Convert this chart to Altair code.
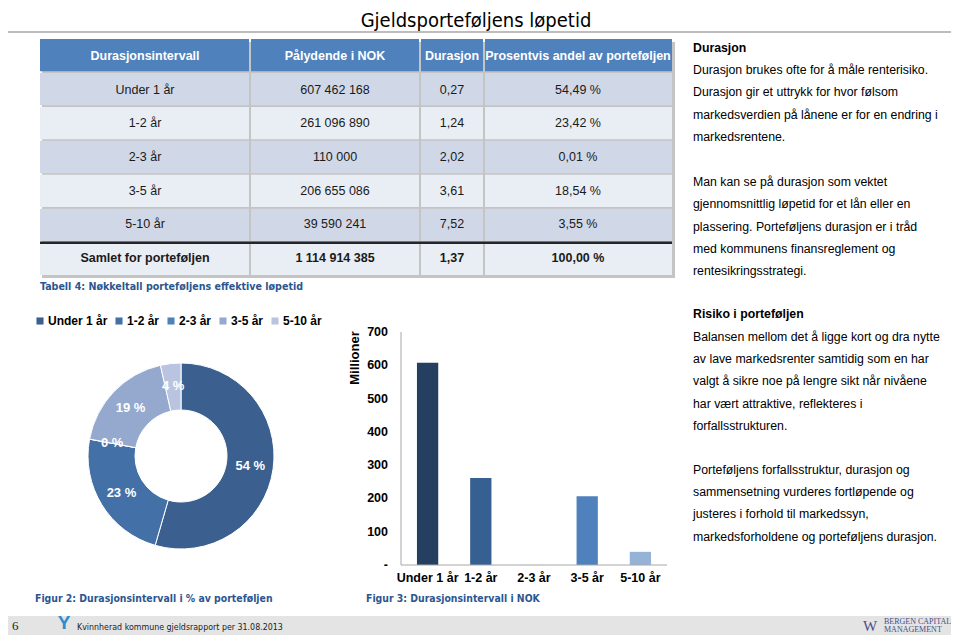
import altair as alt
import pandas as pd

# ---------------- data ----------------
intervals = ["Under 1 år", "1-2 år", "2-3 år", "3-5 år", "5-10 år"]
nominal_nok = [607462168, 261096890, 110000, 206655086, 39590241]
duration_years = [0.27, 1.24, 2.02, 3.61, 7.52]
share_pct = [54.49, 23.42, 0.01, 18.54, 3.55]

total_label = "Samlet for porteføljen"
total_nok = 1114914385
total_duration = 1.37
total_share = 100.00

table_header = ["Durasjonsintervall", "Pålydende i NOK", "Durasjon",
                "Prosentvis andel av porteføljen"]

bar_ticks = [0, 100, 200, 300, 400, 500, 600, 700]
bar_tick_labels = ["-", "100", "200", "300", "400", "500", "600", "700"]

title_text = "Gjeldsporteføljens løpetid"
table_caption = "Tabell 4: Nøkkeltall porteføljens effektive løpetid"
fig2_caption = "Figur 2: Durasjonsintervall i % av porteføljen"
fig3_caption = "Figur 3: Durasjonsintervall i NOK"
y_axis_title = "Millioner"

block1_head = "Durasjon"
block1_para1 = [
    "Durasjon brukes ofte for å måle renterisiko.",
    "Durasjon gir et uttrykk for hvor følsom",
    "markedsverdien på lånene er for en endring i",
    "markedsrentene.",
]
block1_para2 = [
    "Man kan se på durasjon som vektet",
    "gjennomsnittlig løpetid for et lån eller en",
    "plassering. Porteføljens durasjon er i  tråd",
    "med kommunens finansreglement og",
    "rentesikringsstrategi.",
]
block2_head = "Risiko i porteføljen"
block2_para1 = [
    "Balansen mellom det å ligge kort og dra nytte",
    "av lave markedsrenter samtidig som en har",
    "valgt å sikre noe på lengre sikt når nivåene",
    "har vært attraktive, reflekteres i",
    "forfallsstrukturen.",
]
block2_para2 = [
    "Porteføljens forfallsstruktur, durasjon og",
    "sammensetning vurderes fortløpende og",
    "justeres i forhold til markedssyn,",
    "markedsforholdene og porteføljens durasjon.",
]
footer_text = "Kvinnherad kommune gjeldsrapport per  31.08.2013"
page_number = "6"

# ---------------- styling / layout ----------------
W, H = 943, 627
FONT = "Liberation Sans"
NARROW = "Liberation Sans Narrow, DejaVu Sans Condensed, Liberation Sans"
SERIF = "Liberation Serif"
CAPTION_BLUE = "#2B5690"

donut_colors = ["#3B5F8E", "#4470A8", "#4F81BD", "#95A9CF", "#B9C5E0"]
bar_colors = ["#243F60", "#376092", "#4F81BD", "#4F81BD", "#95B3D7"]


def X(v):
    return v - 8


def Y(v):
    return v - 8


def label(text, x, y, size=12.5, weight="normal", color="#000000",
          align="left", baseline="middle", font=FONT, angle=0, **kw):
    return alt.Chart(pd.DataFrame({"t": [text]})).mark_text(
        align=align, baseline=baseline, fontSize=size, fontWeight=weight,
        color=color, font=font, angle=angle, **kw
    ).encode(x=alt.value(X(x)), y=alt.value(Y(y)), text="t:N")


def paragraph(lines, x, y_top, size=12.3, line_height=22.3):
    return alt.Chart(pd.DataFrame({"t": ["\n".join(lines)]})).mark_text(
        align="left", baseline="top", fontSize=size, font=FONT,
        color="#000000", lineBreak="\n", lineHeight=line_height
    ).encode(x=alt.value(X(x)), y=alt.value(Y(y_top)), text="t:N")


def fmt_int(v):
    return f"{v:,}".replace(",", " ")


def fmt_dec(v):
    return f"{v:.2f}".replace(".", ",")


layers = []

# ---- title + rule ----
layers.append(label(title_text, 476, 27, size=20, align="center",
                    baseline="alphabetic", font=NARROW))
layers.append(alt.Chart(pd.DataFrame({"k": [0]})).mark_rule(
    color="#BDBDBD", strokeWidth=2).encode(
    x=alt.value(0), x2=alt.value(W), y=alt.value(Y(32))))

# ---- table ----
rows = [table_header[0]] + intervals + [total_label]
kinds = ["h"] + ["dark" if i % 2 == 0 else "light" for i in range(len(intervals))] + ["light"]
row_df = pd.DataFrame({"row": rows, "fill": kinds})

col_edges = [40, 250, 420, 484, 672]
table_y = alt.Scale(domain=rows, range=[Y(39), Y(275)], paddingInner=0.05,
                    paddingOuter=0)

cols_text = [
    [table_header[0]] + intervals + [total_label],
    [table_header[1]] + [fmt_int(v) for v in nominal_nok] + [fmt_int(total_nok)],
    [table_header[2]] + [fmt_dec(v) for v in duration_years] + [fmt_dec(total_duration)],
    [table_header[3]] + [fmt_dec(v) + " %" for v in share_pct] + [fmt_dec(total_share) + " %"],
]
cell_kind = ["header"] + ["body"] * len(intervals) + ["total"]

# shadow
layers.append(alt.Chart(pd.DataFrame({"k": [0]})).mark_rect(
    fill="#C4C4C4").encode(
    x=alt.value(X(42)), x2=alt.value(X(675)),
    y=alt.value(Y(42)), y2=alt.value(Y(278))))

for c in range(4):
    l, r = col_edges[c], col_edges[c + 1]
    layers.append(alt.Chart(row_df).mark_rect().encode(
        x=alt.value(X(l) + (0 if c == 0 else 1)),
        x2=alt.value(X(r) - (0 if c == 3 else 1)),
        y=alt.Y("row:N", scale=table_y, axis=None),
        fill=alt.Fill("fill:N", scale=alt.Scale(
            domain=["h", "dark", "light"],
            range=["#4F81BD", "#D0D8E8", "#E9EDF4"]), legend=None),
    ))
    cdf = pd.DataFrame({"row": rows, "txt": cols_text[c], "kind": cell_kind})
    cx = (l + r) / 2
    for kind, weight, color in [("header", "bold", "#FFFFFF"),
                                ("body", "normal", "#1A1A1A"),
                                ("total", "bold", "#1A1A1A")]:
        sub = cdf[cdf["kind"] == kind]
        layers.append(alt.Chart(sub).mark_text(
            align="center", baseline="middle", fontSize=12.5,
            fontWeight=weight, color=color, font=FONT).encode(
            x=alt.value(X(cx)),
            y=alt.Y("row:N", scale=table_y, axis=None),
            text="txt:N"))

# thick line above total row
layers.append(alt.Chart(row_df[row_df["row"] == total_label]).mark_rule(
    color="#262626", strokeWidth=2.5).encode(
    x=alt.value(X(40)), x2=alt.value(X(672)),
    y=alt.Y("row:N", scale=table_y, axis=None, bandPosition=0)))

layers.append(label(table_caption, 40, 287, size=10.6, weight="bold",
                    color=CAPTION_BLUE, font=NARROW))

# ---- right-hand text ----
layers.append(label(block1_head, 693, 48, size=12.3, weight="bold"))
layers.append(paragraph(block1_para1, 693, 64))
layers.append(paragraph(block1_para2, 693, 176))
layers.append(label(block2_head, 693, 314, size=12.3, weight="bold"))
layers.append(paragraph(block2_para1, 693, 331, line_height=22.2))
layers.append(paragraph(block2_para2, 693, 464, line_height=22.2))

# ---- donut ----
donut_df = pd.DataFrame({
    "interval": intervals,
    "share": share_pct,
    "idx": list(range(len(intervals))),
    "lbl": [f"{round(s):.0f} %" for s in share_pct],
})
layers.append(alt.Chart(donut_df).mark_arc(
    outerRadius=93, innerRadius=46, stroke="#FFFFFF", strokeWidth=1).encode(
    theta=alt.Theta("share:Q", stack=True),
    order=alt.Order("idx:Q"),
    color=alt.Color("interval:N", sort=intervals,
                    scale=alt.Scale(domain=intervals, range=donut_colors),
                    legend=alt.Legend(
                        orient="none", legendX=X(34), legendY=Y(315),
                        direction="horizontal", title=None,
                        symbolType="square", symbolSize=50,
                        symbolStrokeWidth=0, labelFontSize=12,
                        labelFontWeight="bold", labelFont=FONT,
                        labelColor="#000000", columnPadding=5,
                        labelOffset=2, padding=0)),
    x=alt.value(X(181)), y=alt.value(Y(456)),
))
layers.append(alt.Chart(donut_df).mark_text(
    radius=70, fontSize=13, fontWeight="bold", color="#FFFFFF",
    font=FONT).encode(
    theta=alt.Theta("share:Q", stack=True),
    order=alt.Order("idx:Q"),
    text="lbl:N",
    x=alt.value(X(181)), y=alt.value(Y(456)),
))

layers.append(label(fig2_caption, 35, 599, size=10.4, weight="bold",
                    color=CAPTION_BLUE, font=NARROW))

# ---- bar chart ----
bar_df = pd.DataFrame({"interval": intervals,
                       "mill": [v / 1e6 for v in nominal_nok]})
bar_x = alt.Scale(domain=intervals, range=[X(401), X(667)],
                  paddingInner=0.6, paddingOuter=0.3)
bar_y = alt.Scale(domain=[0, 700], range=[Y(565), Y(332)], nice=False,
                  zero=True)

layers.append(alt.Chart(bar_df).mark_bar().encode(
    x=alt.X("interval:N", scale=bar_x, axis=None, sort=intervals),
    y=alt.Y("mill:Q", scale=bar_y, axis=None),
    color=alt.Color("interval:N", scale=alt.Scale(domain=intervals,
                                                  range=bar_colors),
                    legend=None),
))
# axis lines
layers.append(alt.Chart(pd.DataFrame({"k": [0]})).mark_rule(
    color="#A6A6A6", strokeWidth=1).encode(
    x=alt.value(X(401)), y=alt.value(Y(332)), y2=alt.value(Y(565))))
layers.append(alt.Chart(pd.DataFrame({"k": [0]})).mark_rule(
    color="#A6A6A6", strokeWidth=1).encode(
    x=alt.value(X(401)), x2=alt.value(X(667)), y=alt.value(Y(565))))
# tick labels
tick_df = pd.DataFrame({"v": bar_ticks, "t": bar_tick_labels})
layers.append(alt.Chart(tick_df).mark_text(
    align="right", baseline="middle", fontSize=12.5, fontWeight="bold",
    font=FONT, color="#000000").encode(
    x=alt.value(X(388)),
    y=alt.Y("v:Q", scale=bar_y, axis=None),
    text="t:N"))
layers.append(alt.Chart(bar_df).mark_text(
    align="center", baseline="middle", fontSize=12.5, fontWeight="bold",
    font=FONT, color="#000000").encode(
    x=alt.X("interval:N", scale=bar_x, axis=None, sort=intervals),
    y=alt.value(Y(578)),
    text="interval:N"))
layers.append(label(y_axis_title, 355, 358, size=13, weight="bold",
                    align="center", angle=270))
layers.append(label(fig3_caption, 366, 599, size=10.4, weight="bold",
                    color=CAPTION_BLUE, font=NARROW))

# ---- footer ----
layers.append(alt.Chart(pd.DataFrame({"k": [0]})).mark_rect(
    fill="#E4E4E4").encode(
    x=alt.value(0), x2=alt.value(W), y=alt.value(Y(616)), y2=alt.value(H)))
layers.append(label(page_number, 12, 626, size=13, font=SERIF,
                    color="#222222"))
layers.append(label("Y", 64, 623, size=19, weight="bold", align="center",
                    color="#2E8BD0"))
layers.append(label(footer_text, 77, 627, size=8.8, font=NARROW,
                    color="#222222"))
layers.append(label("W", 870, 626, size=15, font=SERIF, align="center",
                    color="#46508A"))
layers.append(label("BERGEN CAPITAL", 884, 622, size=8, font=SERIF,
                    color="#46508A"))
layers.append(label("MANAGEMENT", 884, 630, size=8, font=SERIF,
                    color="#46508A"))

chart = alt.layer(*layers).resolve_scale(
    x="independent", y="independent", color="independent",
    fill="independent", theta="independent",
).properties(
    width=W, height=H, padding=0,
    autosize=alt.AutoSizeParams(type="none"),
).configure_view(strokeWidth=0)

chart.save("out.html", embed_options={"renderer": "svg", "actions": False})
